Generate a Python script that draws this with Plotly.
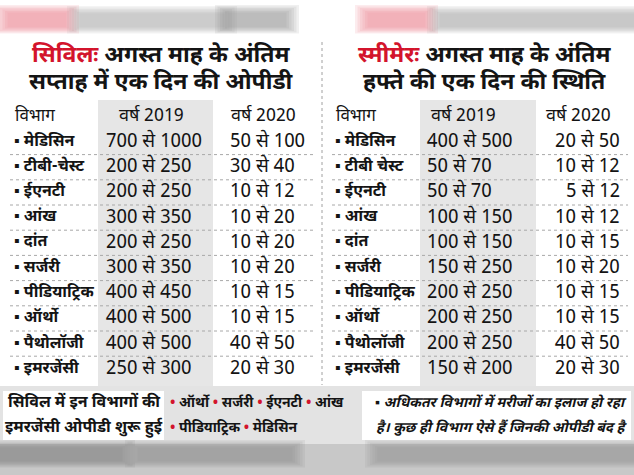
import plotly.graph_objects as go

# ---------------- data ----------------
header_dept = "विभाग"
header_2019 = "वर्ष 2019"
header_2020 = "वर्ष 2020"

civil_title_red = "सिविलः"
civil_title_rest = " अगस्त माह के अंतिम"
civil_title_line2 = "सप्ताह में एक दिन की ओपीडी"
civil_depts = ["मेडिसिन", "टीबी-चेस्ट", "ईएनटी", "आंख", "दांत", "सर्जरी",
               "पीडियाट्रिक", "ऑर्थो", "पैथोलॉजी", "इमरजेंसी"]
civil_2019 = ["700 से 1000", "200 से 250", "200 से 250", "300 से 350", "200 से 250",
              "300 से 350", "400 से 450", "400 से 500", "400 से 500", "250 से 300"]
civil_2020 = ["50 से 100", "30 से 40", "10 से 12", "10 से 20", "10 से 20",
              "10 से 20", "10 से 15", "10 से 15", "40 से 50", "20 से 30"]

smimer_title_red = "स्मीमेरः"
smimer_title_rest = " अगस्त माह के अंतिम"
smimer_title_line2 = "हफ्ते की एक दिन की स्थिति"
smimer_depts = ["मेडिसिन", "टीबी चेस्ट", "ईएनटी", "आंख", "दांत", "सर्जरी",
                "पीडियाट्रिक", "ऑर्थो", "पैथोलॉजी", "इमरजेंसी"]
smimer_2019 = ["400 से 500", "50 से 70", "50 से 70", "100 से 150", "100 से 150",
               "150 से 250", "200 से 250", "200 से 250", "200 से 250", "150 से 200"]
smimer_2020 = ["20 से 50", "10 से 12", "5 से 12", "10 से 12", "10 से 15",
               "10 से 20", "10 से 15", "10 से 15", "40 से 50", "20 से 30"]

footer_left = ["सिविल में इन विभागों की", "इमरजेंसी ओपीडी शुरू हुई"]
emergency_line1 = ["ऑर्थो", "सर्जरी", "ईएनटी", "आंख"]
emergency_line2 = ["पीडियाट्रिक", "मेडिसिन"]
footer_right = ["▪ अधिकतर विभागों में मरीजों का इलाज हो रहा",
                "है। कुछ ही विभाग ऐसे हैं जिनकी ओपीडी बंद है"]

# ---------------- style ----------------
RED = "#d3142c"
BAND = "#e6e6e6"
INK = "#141414"
FONT = "Noto Sans Devanagari, Noto Sans, sans-serif"
W, H = 634, 475
ROW0, ROWH = 142, 25.2
HEADER_Y = 116

rows_y = [ROW0 + i * ROWH for i in range(len(civil_depts))]

fig = go.Figure()
shapes = []


def soft_rect(x0, x1, y0, y1, color, layers=6, step=2.5, op=0.14):
    for k in range(layers):
        g = (layers - k) * step
        shapes.append(dict(type="rect", xref="x", yref="y",
                           x0=x0 - g, x1=x1 + g, y0=y0 - g * 0.6, y1=y1 + g * 0.5,
                           fillcolor=color, opacity=op, line=dict(width=0), layer="below"))


# top blurred strip
soft_rect(10, 64, 14, 26, "#ec8a94", op=0.16)
soft_rect(82, 222, 15, 26, "#9c9c9c", op=0.11)
soft_rect(230, 284, 14, 26, "#8c8c8c", op=0.13)
soft_rect(370, 423, 14, 26, "#ec8a94", op=0.16)
soft_rect(442, 640, 15, 26, "#9c9c9c", op=0.12)

# 2019 column bands
for x0, x1 in [(98, 213), (420, 536)]:
    shapes.append(dict(type="rect", xref="x", yref="y", x0=x0, x1=x1, y0=100, y1=387,
                       fillcolor=BAND, line=dict(width=0), layer="below"))

# row separators (dotted)
for i in range(len(rows_y) - 1):
    yy = (rows_y[i] + rows_y[i + 1]) / 2
    for x0, x1 in [(10, 314), (332, 628)]:
        shapes.append(dict(type="line", xref="x", yref="y", x0=x0, x1=x1, y0=yy, y1=yy,
                           line=dict(color="#a8a8a8", width=1, dash="dot")))
# vertical divider
shapes.append(dict(type="line", xref="x", yref="y", x0=322, x1=322, y0=42, y1=385,
                   line=dict(color="#a0a0a0", width=1, dash="dot")))

# footer grey band and white boxes
shapes.append(dict(type="rect", xref="x", yref="y", x0=0, x1=W, y0=386, y1=444,
                   fillcolor="#e3e3e3", line=dict(width=0), layer="below"))
for x0, x1 in [(3, 164), (362, 631)]:
    shapes.append(dict(type="rect", xref="x", yref="y", x0=x0, x1=x1, y0=391, y1=440,
                       fillcolor="white", line=dict(width=0), layer="below"))
# bottom blurred strip
shapes.append(dict(type="rect", xref="x", yref="y", x0=0, x1=W, y0=444, y1=H,
                   fillcolor="#c8c8c8", line=dict(width=0), layer="below"))
for x0, x1, c in [(0, 120, "#7e7e7e"), (140, 290, "#909090"), (380, 634, "#969696")]:
    soft_rect(x0, x1, 449, 460, c, op=0.14)

annotations = []


def ann(x, y, text, size, xanchor="center", bold=False, italic=False, color=INK):
    annotations.append(dict(x=x, y=y, xref="x", yref="y", text=text, showarrow=False,
                            xanchor=xanchor, yanchor="middle",
                            font=dict(family=FONT, size=size, color=color,
                                      weight="bold" if bold else "normal",
                                      style="italic" if italic else "normal")))


def column(x, texts, size, xanchor, bold=False):
    for yy, t in zip(rows_y, texts):
        ann(x, yy, t, size, xanchor=xanchor, bold=bold)


# headers
ann(13, HEADER_Y, header_dept, 17, xanchor="left")
ann(151, HEADER_Y, header_2019, 18)
ann(263, HEADER_Y, header_2020, 18)
ann(334, HEADER_Y, header_dept, 17, xanchor="left")
ann(463, HEADER_Y, header_2019, 18)
ann(578, HEADER_Y, header_2020, 18)

# civil table
column(12, ["▪ " + d for d in civil_depts], 16, "left", bold=True)
column(104, civil_2019, 19, "left")
column(228, civil_2020, 19, "left")
# smimer table
column(333, ["▪ " + d for d in smimer_depts], 16, "left", bold=True)
column(425, smimer_2019, 19, "left")
column(622, smimer_2020, 19, "right")

# titles
ann(161, 56, f"<span style='color:{RED}'>{civil_title_red}</span>{civil_title_rest}", 23, bold=True)
ann(161, 83, civil_title_line2, 23, bold=True)
ann(484, 56, f"<span style='color:{RED}'>{smimer_title_red}</span>{smimer_title_rest}", 23, bold=True)
ann(484, 83, smimer_title_line2, 23, bold=True)

# footer
ann(84, 403, footer_left[0], 16, bold=True)
ann(84, 428, footer_left[1], 16, bold=True)
bul = f"<span style='color:{RED}'>•</span> "
ann(168, 403, " ".join(bul + t for t in emergency_line1), 14, xanchor="left", bold=True)
ann(168, 428, " ".join(bul + t for t in emergency_line2), 14, xanchor="left", bold=True)
ann(629, 403, footer_right[0], 14, xanchor="right", bold=True, italic=True)
ann(629, 428, footer_right[1], 14, xanchor="right", bold=True, italic=True)

fig.update_layout(
    width=W, height=H, margin=dict(l=0, r=0, t=0, b=0),
    paper_bgcolor="white", plot_bgcolor="white",
    xaxis=dict(range=[0, W], visible=False, fixedrange=True),
    yaxis=dict(range=[H, 0], visible=False, fixedrange=True),
    shapes=shapes, annotations=annotations, showlegend=False,
)

fig.write_html("out.html", config={"displayModeBar": False},
               post_script="document.body.style.margin='0';document.body.style.overflow='hidden';")
